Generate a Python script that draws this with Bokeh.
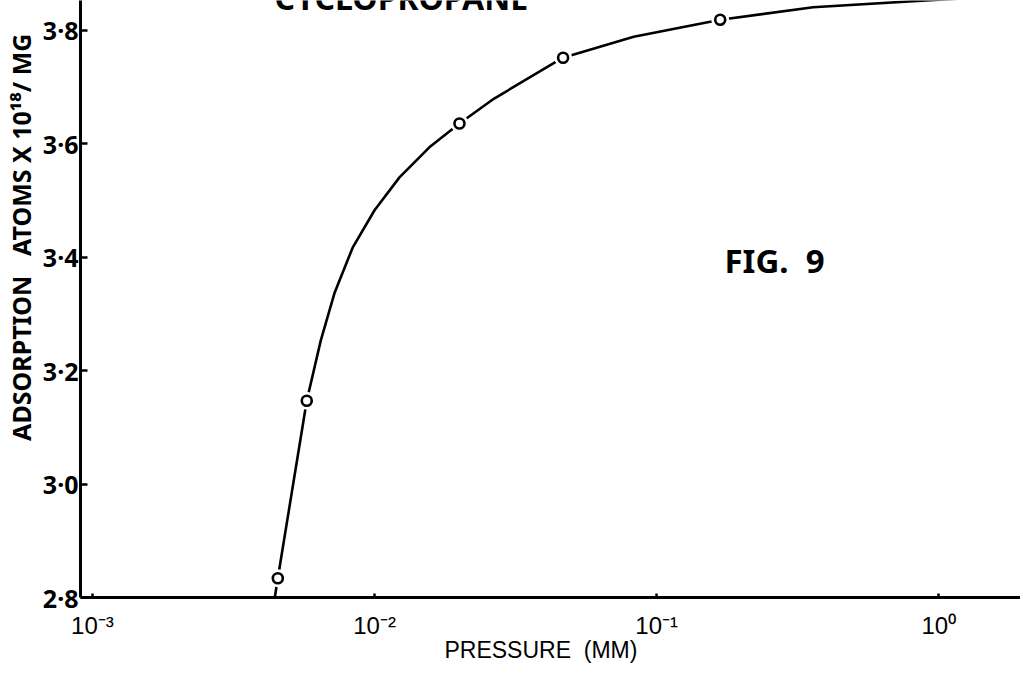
from bokeh.plotting import figure
from bokeh.models import FixedTicker, Label, Range1d
from bokeh.embed import file_html
from bokeh.resources import INLINE

# Measured points (pressure in mm, adsorption in atoms x 10^18 / mg)
pressure_pts = [0.00454, 0.00575, 0.0200, 0.0466, 0.168]
adsorption_pts = [2.834, 3.147, 3.636, 3.752, 3.819]

# Hand-drawn smooth curve
curve_pressure = [0.00443, 0.00454, 0.00575, 0.006445, 0.007224, 0.008362, 0.0100,
                  0.012255, 0.01564, 0.0200, 0.02655, 0.04654, 0.08293, 0.1683,
                  0.3588, 0.8996, 1.949]
curve_adsorption = [2.800, 2.834, 3.147, 3.253, 3.338, 3.417, 3.483,
                    3.541, 3.594, 3.636, 3.680, 3.752, 3.789, 3.819,
                    3.841, 3.853, 3.862]

x_ticks = [0.001, 0.01, 0.1, 1.0]
x_tick_labels = ["10\u207b\u00b3", "10\u207b\u00b2", "10\u207b\u00b9", "10\u2070"]
y_ticks = [2.8, 3.0, 3.2, 3.4, 3.6, 3.8]
y_tick_labels = ["2\u00b78", "3\u00b70", "3\u00b72", "3\u00b74", "3\u00b76", "3\u00b78"]

FONT = "Noto Sans"
XFONT = "Liberation Sans"
NB = "\u00a0"

p = figure(width=1020, height=665, x_axis_type="log",
           x_range=Range1d(0.000907, 1.949), y_range=Range1d(2.8, 3.8529),
           output_backend="svg", toolbar_location=None,
           min_border_left=77, min_border_right=0, min_border_top=0, min_border_bottom=68)
p.outline_line_color = None
p.grid.visible = False
p.background_fill_color = "white"

# axes
p.xaxis.ticker = FixedTicker(ticks=x_ticks)
p.xaxis.major_label_overrides = dict(zip(x_ticks, x_tick_labels))
p.yaxis.ticker = FixedTicker(ticks=y_ticks)
p.yaxis.major_label_overrides = dict(zip(y_ticks, y_tick_labels))
for ax in (p.xaxis, p.yaxis):
    ax.axis_line_width = 3
    ax.axis_line_color = "black"
    ax.major_tick_line_width = 2.5
    ax.major_tick_line_color = "black"
    ax.major_tick_out = 0
    ax.minor_tick_line_color = None
    ax.major_label_text_color = "black"
p.xaxis.major_tick_in = 4
p.yaxis.major_tick_in = 7
p.xaxis.major_label_text_font = XFONT
p.xaxis.major_label_text_font_size = "24px"
p.xaxis.major_label_standoff = 14
p.yaxis.major_label_text_font = FONT
p.yaxis.major_label_text_font_size = "25px"
p.yaxis.major_label_text_font_style = "bold"
p.yaxis.major_label_standoff = 2

p.xaxis.axis_label = "PRESSURE" + NB * 2 + "(MM)" + NB * 3
p.xaxis.axis_label_text_font = XFONT
p.xaxis.axis_label_text_font_size = "23px"
p.xaxis.axis_label_text_font_style = "normal"
p.xaxis.axis_label_text_color = "black"
p.xaxis.axis_label_standoff = -5

p.yaxis.axis_label = NB * 19 + "ADSORPTION" + NB * 3 + "ATOMS X 10\u00b9\u2078/ MG"
p.yaxis.axis_label_text_font = FONT
p.yaxis.axis_label_text_font_size = "25px"
p.yaxis.axis_label_text_font_style = "bold"
p.yaxis.axis_label_text_color = "black"
p.yaxis.axis_label_standoff = 2

# curve and points
p.line(curve_pressure, curve_adsorption, line_width=2.6, line_color="black")
p.scatter(pressure_pts, adsorption_pts, size=18, marker="circle",
          fill_color="white", line_color=None)
p.scatter(pressure_pts, adsorption_pts, size=10, marker="circle",
          fill_color="white", line_color="black", line_width=2.6)

# texts
p.add_layout(Label(x=0.174, y=3.394, text="FIG." + NB * 2 + "9", text_font=FONT,
                   text_font_size="33px", text_font_style="bold",
                   text_align="left", text_baseline="middle", text_color="black"))
p.add_layout(Label(x=0.01245, y=3.859, text="CYCLOPROPANE", text_font=FONT,
                   text_font_size="32px", text_font_style="bold",
                   text_align="center", text_baseline="alphabetic", text_color="black"))

open("out.html", "w").write(file_html(p, INLINE))
